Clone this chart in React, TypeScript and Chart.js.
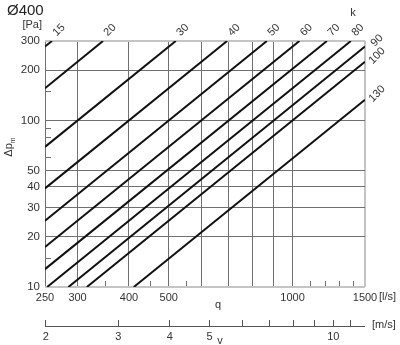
import React, { useEffect, useRef } from 'react';
import { Chart, registerables } from 'chart.js';

Chart.register(...registerables);

// k-factor lines (straight segments in log-log space)
const kValues = [15, 20, 30, 40, 50, 60, 70, 80, 90, 100, 130];
const startQ = [250, 250, 250, 250, 250, 250, 250, 253, 285, 316, 411];
const startDp = [278, 156, 69.4, 39.1, 25, 17.4, 12.8, 10, 10, 10, 10];
const endQ = [260, 346, 520, 693, 866, 1039, 1212, 1386, 1500, 1500, 1500];
const endDp = [300, 300, 300, 300, 300, 300, 300, 300, 278, 225, 133];

// axes
const qMin = 250;
const qMax = 1500;
const dpMin = 10;
const dpMax = 300;
const vMin = 1.99;
const vMax = 11.94;
const qGridTicks = [250, 300, 400, 500, 600, 700, 800, 900, 1000, 1500];
const qTickLabels = [250, 300, 400, 500, 1000, 1500];
const qMinorTicks = [350, 450, 550, 1100, 1200, 1300, 1400];
const dpGridTicks = [10, 20, 30, 40, 50, 100, 200, 300];
const dpMinorTicks = [15, 60, 80, 90, 150];
const vTicks = [2, 3, 4, 5, 6, 7, 8, 9, 10, 11];
const vTickLabels = [2, 3, 4, 5, 10];

const FONT = "'Liberation Sans', Arial, sans-serif";
const TEXT = '#333';
const GRID = '#707070';
const FRAME = '#c4c4c4';

const decor = {
  id: 'decor',
  afterDraw(chart: any) {
    const ctx = chart.ctx as CanvasRenderingContext2D;
    const { left, right, top, bottom } = chart.chartArea;
    const xs = chart.scales.x;
    const ys = chart.scales.y;
    const vs = chart.scales.v;
    ctx.save();
    // inner minor ticks
    ctx.strokeStyle = GRID;
    ctx.lineWidth = 1;
    ctx.beginPath();
    qMinorTicks.forEach((q) => {
      const px = Math.round(xs.getPixelForValue(q)) + 0.5;
      ctx.moveTo(px, bottom - 1);
      ctx.lineTo(px, bottom - 6);
    });
    dpMinorTicks.forEach((p) => {
      const py = Math.round(ys.getPixelForValue(p)) + 0.5;
      ctx.moveTo(left, py);
      ctx.lineTo(left + 6, py);
    });
    ctx.stroke();
    // v axis line
    ctx.strokeStyle = '#555';
    ctx.beginPath();
    const vy = Math.round(vs.top + 6) + 0.5;
    ctx.moveTo(vs.getPixelForValue(vMin), vy);
    ctx.lineTo(vs.getPixelForValue(vMax), vy);
    ctx.stroke();

    // texts
    ctx.fillStyle = '#222';
    ctx.font = `15px ${FONT}`;
    ctx.textAlign = 'left';
    ctx.textBaseline = 'alphabetic';
    ctx.fillText('Ø400', 7, 15);

    ctx.fillStyle = TEXT;
    ctx.font = `11px ${FONT}`;
    ctx.textBaseline = 'middle';
    ctx.textAlign = 'right';
    ctx.fillText('[Pa]', 42, 25);
    ctx.textAlign = 'center';
    ctx.fillText('k', 353, 13);
    ctx.fillText('q', 218, 305);
    ctx.fillText('v', 220, 341);
    ctx.textAlign = 'left';
    ctx.fillText('[l/s]', 379, 297);
    ctx.fillText('[m/s]', 372, 325);

    // Δp_m
    ctx.save();
    ctx.translate(9, 147);
    ctx.rotate(-Math.PI / 2);
    ctx.font = `11px ${FONT}`;
    const w1 = ctx.measureText('Δp').width;
    ctx.font = `7px ${FONT}`;
    const w2 = ctx.measureText('m').width;
    const x0 = -(w1 + w2) / 2;
    ctx.font = `11px ${FONT}`;
    ctx.fillText('Δp', x0, 0);
    ctx.font = `7px ${FONT}`;
    ctx.fillText('m', x0 + w1, 4);
    ctx.restore();

    // k labels
    ctx.font = `11px ${FONT}`;
    ctx.textAlign = 'center';
    kValues.forEach((k, i) => {
      let cx: number;
      let cy: number;
      if (endDp[i] >= dpMax) {
        cx = xs.getPixelForValue(endQ[i]) + 7;
        cy = top - 11;
      } else {
        cx = right + 12;
        cy = ys.getPixelForValue(endDp[i]) - 6;
      }
      ctx.save();
      ctx.translate(cx, cy);
      ctx.rotate(-Math.PI / 4);
      ctx.fillText(String(k), 0, 0);
      ctx.restore();
    });
    ctx.restore();
  },
};

export default function App() {
  const ref = useRef<HTMLCanvasElement>(null);
  useEffect(() => {
    if (!ref.current) return;
    const chart = new Chart(ref.current, {
      type: 'line',
      data: {
        datasets: kValues.map((k, i) => ({
          label: `k=${k}`,
          data: [
            { x: startQ[i], y: startDp[i] },
            { x: endQ[i], y: endDp[i] },
          ],
          borderColor: '#111',
          borderWidth: 2,
          pointRadius: 0,
          fill: false,
          tension: 0,
        })),
      },
      options: {
        animation: false,
        responsive: false,
        devicePixelRatio: 1,
        layout: { padding: { top: 41, right: 35, left: 0, bottom: 0 } },
        plugins: { legend: { display: false }, tooltip: { enabled: false } },
        font: { family: FONT },
        scales: {
          x: {
            type: 'logarithmic',
            position: 'bottom',
            weight: 0,
            min: qMin,
            max: qMax,
            afterBuildTicks: (s: any) => {
              s.ticks = qGridTicks.map((v) => ({ value: v }));
            },
            afterFit: (s: any) => {
              s.height = 33;
            },
            grid: {
              drawTicks: false,
              color: (c: any) => (c.tick && c.tick.value === qMax ? FRAME : GRID),
              lineWidth: (c: any) => (c.tick && c.tick.value === qMax ? 2 : 1),
            },
            border: { display: false },
            ticks: {
              autoSkip: false,
              maxRotation: 0,
              minRotation: 0,
              padding: 4,
              color: TEXT,
              font: { size: 11, family: FONT },
              callback: (v: any) => (qTickLabels.includes(Number(v)) ? String(v) : ''),
            },
          },
          v: {
            type: 'logarithmic',
            position: 'bottom',
            weight: 1,
            min: vMin,
            max: vMax,
            afterBuildTicks: (s: any) => {
              s.ticks = vTicks.map((v) => ({ value: v }));
            },
            afterFit: (s: any) => {
              s.height = 25;
            },
            grid: {
              drawOnChartArea: false,
              drawTicks: true,
              tickLength: 6,
              color: '#555',
            },
            border: { display: false },
            ticks: {
              autoSkip: false,
              maxRotation: 0,
              minRotation: 0,
              padding: 4,
              color: TEXT,
              font: { size: 11, family: FONT },
              callback: (v: any) => (vTickLabels.includes(Number(v)) ? String(v) : ''),
            },
          },
          y: {
            type: 'logarithmic',
            position: 'left',
            min: dpMin,
            max: dpMax,
            afterBuildTicks: (s: any) => {
              s.ticks = dpGridTicks.map((v) => ({ value: v }));
            },
            afterFit: (s: any) => {
              s.width = 45;
            },
            grid: {
              drawTicks: false,
              color: (c: any) =>
                c.tick && (c.tick.value === dpMax || c.tick.value === dpMin) ? FRAME : GRID,
              lineWidth: (c: any) =>
                c.tick && (c.tick.value === dpMax || c.tick.value === dpMin) ? 2 : 1,
            },
            border: { display: false },
            ticks: {
              autoSkip: false,
              padding: 5,
              color: TEXT,
              font: { size: 11.5, family: FONT },
              callback: (v: any) => String(v),
            },
          },
        },
      },
      plugins: [decor],
    } as any);
    return () => chart.destroy();
  }, []);
  return (
    <div style={{ position: 'fixed', left: 0, top: 0, width: 400, height: 345, background: '#fff' }}>
      <canvas ref={ref} width={400} height={345} style={{ width: 400, height: 345, display: 'block' }} />
    </div>
  );
}
